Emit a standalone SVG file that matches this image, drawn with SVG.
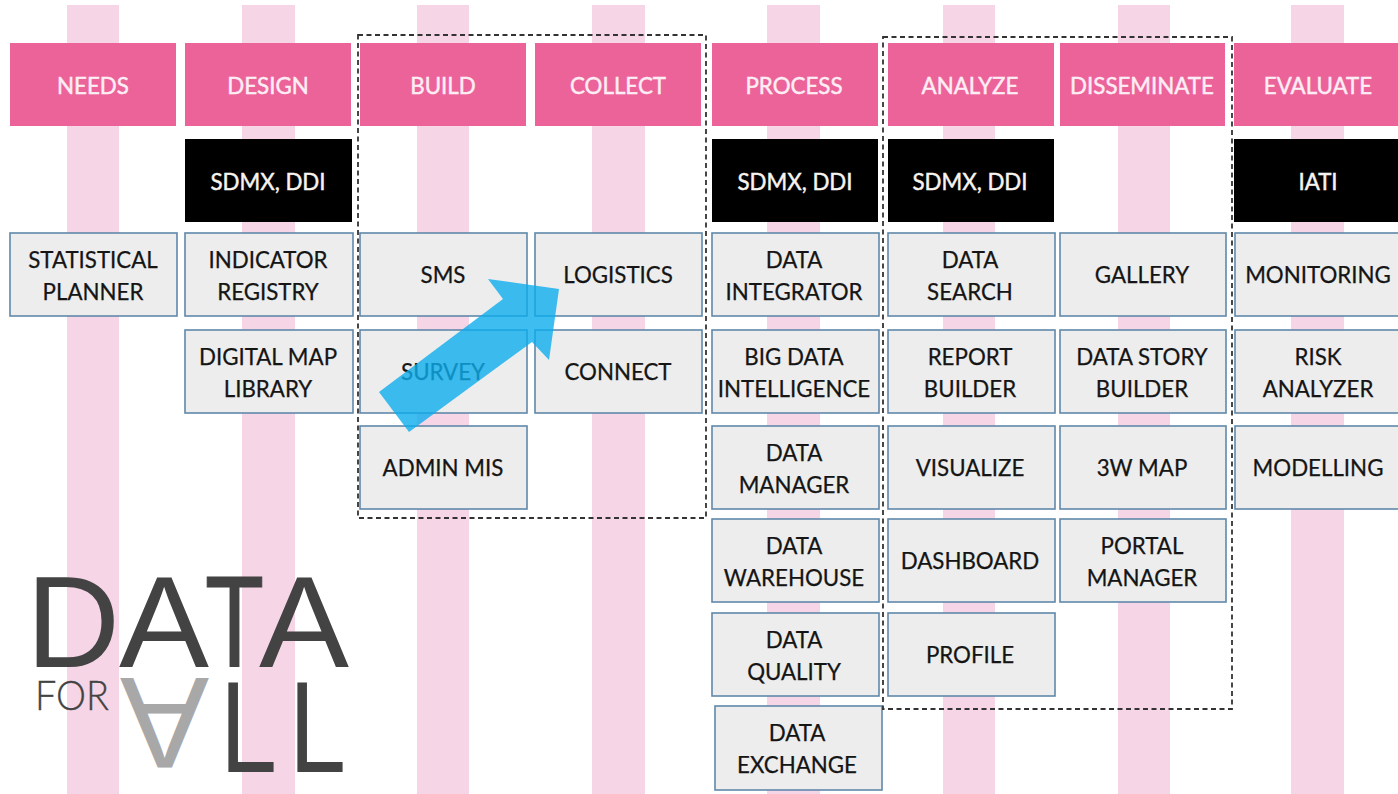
<svg xmlns="http://www.w3.org/2000/svg" width="1398" height="794" viewBox="0 0 1398 794">
<style>
text{font-family:"Lato","Open Sans","Liberation Sans",sans-serif;text-anchor:middle}
.stripe{fill:#f6d5e6}
.head rect{fill:#ec6399}
.head text{fill:#fdeef5;font-size:22.3px;stroke:#fdeef5;stroke-width:.45}
.std rect{fill:#000}
.std text{fill:#f7f3ee;font-size:22.3px;stroke:#f7f3ee;stroke-width:.45}
.box rect{fill:#ededed;stroke:#5f88aa;stroke-width:1.6}
.box text{fill:#151515;font-size:22.3px;stroke:#151515;stroke-width:.25}
.dash{fill:none;stroke:#333;stroke-width:1.8;stroke-dasharray:5 3.5}
.logo text{fill:#434343;font-family:"Liberation Sans",sans-serif;text-anchor:start}
</style>
<g id="stripes">
<rect class="stripe" x="67" y="5" width="52" height="789"/>
<rect class="stripe" x="242" y="5" width="53" height="789"/>
<rect class="stripe" x="417" y="5" width="52" height="789"/>
<rect class="stripe" x="592" y="5" width="53" height="789"/>
<rect class="stripe" x="767" y="5" width="53" height="789"/>
<rect class="stripe" x="943" y="5" width="52" height="789"/>
<rect class="stripe" x="1118" y="5" width="52" height="789"/>
<rect class="stripe" x="1291" y="5" width="53" height="789"/>
</g>
<g id="h-needs" class="head"><rect x="10" y="43" width="166" height="83"/><text x="93" y="93.500">NEEDS</text></g>
<g id="h-design" class="head"><rect x="185" y="43" width="166" height="83"/><text x="268" y="93.500">DESIGN</text></g>
<g id="h-build" class="head"><rect x="360" y="43" width="166" height="83"/><text x="443" y="93.500">BUILD</text></g>
<g id="h-collect" class="head"><rect x="535" y="43" width="166" height="83"/><text x="618" y="93.500">COLLECT</text></g>
<g id="h-process" class="head"><rect x="712" y="43" width="166" height="83"/><text x="794" y="93.500">PROCESS</text></g>
<g id="h-analyze" class="head"><rect x="888" y="43" width="166" height="83"/><text x="970" y="93.500">ANALYZE</text></g>
<g id="h-disseminate" class="head"><rect x="1060" y="43" width="165" height="83"/><text x="1142" y="93.500">DISSEMINATE</text></g>
<g id="h-evaluate" class="head"><rect x="1234" y="43" width="164" height="83"/><text x="1318" y="93.500">EVALUATE</text></g>
<g id="s-design" class="std"><rect x="185" y="139" width="167" height="83"/><text x="268" y="189.500">SDMX, DDI</text></g>
<g id="s-process" class="std"><rect x="712" y="139" width="166" height="83"/><text x="795" y="189.500">SDMX, DDI</text></g>
<g id="s-analyze" class="std"><rect x="888" y="139" width="166" height="83"/><text x="970" y="189.500">SDMX, DDI</text></g>
<g id="s-evaluate" class="std"><rect x="1234" y="139" width="164" height="83"/><text x="1318" y="189.500">IATI</text></g>
<g id="n-statistical-planner" class="box"><rect x="10" y="233" width="167" height="83"/><text x="93" y="267.500">STATISTICAL</text><text x="93" y="299.500">PLANNER</text></g>
<g id="n-indicator-registry" class="box"><rect x="185" y="233" width="168" height="83"/><text x="268" y="267.500">INDICATOR</text><text x="268" y="299.500">REGISTRY</text></g>
<g id="n-digital-map" class="box"><rect x="185" y="330" width="168" height="83"/><text x="268" y="364.500">DIGITAL MAP</text><text x="268" y="396.500">LIBRARY</text></g>
<g id="n-sms" class="box"><rect x="360" y="233" width="167" height="83"/><text x="443" y="282.500">SMS</text></g>
<g id="n-survey" class="box"><rect x="360" y="330" width="167" height="83"/><text x="443" y="379.500">SURVEY</text></g>
<g id="n-admin-mis" class="box"><rect x="360" y="426" width="167" height="83"/><text x="443" y="475.500">ADMIN MIS</text></g>
<g id="n-logistics" class="box"><rect x="535" y="233" width="167" height="83"/><text x="618" y="282.500">LOGISTICS</text></g>
<g id="n-connect" class="box"><rect x="535" y="330" width="167" height="83"/><text x="618" y="379.500">CONNECT</text></g>
<g id="n-data-integrator" class="box"><rect x="712" y="233" width="167" height="83"/><text x="794" y="267.500">DATA</text><text x="794" y="299.500">INTEGRATOR</text></g>
<g id="n-big-data" class="box"><rect x="712" y="330" width="167" height="83"/><text x="794" y="364.500">BIG DATA</text><text x="794" y="396.500">INTELLIGENCE</text></g>
<g id="n-data-manager" class="box"><rect x="712" y="426" width="167" height="83"/><text x="794" y="460.500">DATA</text><text x="794" y="492.500">MANAGER</text></g>
<g id="n-data-warehouse" class="box"><rect x="712" y="519" width="167" height="83"/><text x="794" y="553.500">DATA</text><text x="794" y="585.500">WAREHOUSE</text></g>
<g id="n-data-quality" class="box"><rect x="712" y="613" width="167" height="83"/><text x="794" y="647.500">DATA</text><text x="794" y="679.500">QUALITY</text></g>
<g id="n-data-exchange" class="box"><rect x="715" y="706" width="167" height="84"/><text x="797" y="740.500">DATA</text><text x="797" y="772.500">EXCHANGE</text></g>
<g id="n-data-search" class="box"><rect x="888" y="233" width="167" height="83"/><text x="970" y="267.500">DATA</text><text x="970" y="299.500">SEARCH</text></g>
<g id="n-report-builder" class="box"><rect x="888" y="330" width="167" height="83"/><text x="970" y="364.500">REPORT</text><text x="970" y="396.500">BUILDER</text></g>
<g id="n-visualize" class="box"><rect x="888" y="426" width="167" height="83"/><text x="970" y="475.500">VISUALIZE</text></g>
<g id="n-dashboard" class="box"><rect x="888" y="519" width="167" height="83"/><text x="970" y="568.500">DASHBOARD</text></g>
<g id="n-profile" class="box"><rect x="888" y="613" width="167" height="83"/><text x="970" y="662.500">PROFILE</text></g>
<g id="n-gallery" class="box"><rect x="1060" y="233" width="166" height="83"/><text x="1142" y="282.500">GALLERY</text></g>
<g id="n-data-story" class="box"><rect x="1060" y="330" width="166" height="83"/><text x="1142" y="364.500">DATA STORY</text><text x="1142" y="396.500">BUILDER</text></g>
<g id="n-3w-map" class="box"><rect x="1060" y="426" width="166" height="83"/><text x="1142" y="475.500">3W MAP</text></g>
<g id="n-portal-manager" class="box"><rect x="1060" y="519" width="166" height="83"/><text x="1142" y="553.500">PORTAL</text><text x="1142" y="585.500">MANAGER</text></g>
<g id="n-monitoring" class="box"><rect x="1235" y="233" width="170" height="83"/><text x="1318" y="282.500">MONITORING</text></g>
<g id="n-risk-analyzer" class="box"><rect x="1235" y="330" width="170" height="83"/><text x="1318" y="364.500">RISK</text><text x="1318" y="396.500">ANALYZER</text></g>
<g id="n-modelling" class="box"><rect x="1235" y="426" width="170" height="83"/><text x="1318" y="475.500">MODELLING</text></g>
<g id="groups">
<rect class="dash" x="358" y="35" width="348" height="483"/>
<rect class="dash" x="883" y="37" width="349" height="672"/>
</g>
<g id="connectors">
<polygon points="379,392 503,299 488,279 559,289 549,360 532,342 409,432" fill="#0cacec" fill-opacity=".8"/>
</g>
<g id="logo" class="logo">
<text x="26" y="667" font-size="130" textLength="94" lengthAdjust="spacingAndGlyphs">D</text>
<text x="119" y="667" font-size="130" textLength="90" lengthAdjust="spacingAndGlyphs">A</text>
<text x="205" y="667" font-size="130" textLength="59" lengthAdjust="spacingAndGlyphs" style="stroke:#434343;stroke-width:1.2">T</text>
<text x="259" y="667" font-size="130" textLength="90" lengthAdjust="spacingAndGlyphs">A</text>
<text x="35" y="710" font-size="41" textLength="74" lengthAdjust="spacingAndGlyphs" style="font-family:'Lato',sans-serif;font-weight:300;stroke:#434343;stroke-width:.35">FOR</text>
<text transform="translate(0,678) scale(1,-1)" x="120" y="0" font-size="130" textLength="89" lengthAdjust="spacingAndGlyphs" style="fill:#a8a8a8">A</text>
<text x="220" y="772" font-size="130" textLength="57" lengthAdjust="spacingAndGlyphs">L</text>
<text x="289" y="772" font-size="130" textLength="57" lengthAdjust="spacingAndGlyphs">L</text>
</g>
</svg>
